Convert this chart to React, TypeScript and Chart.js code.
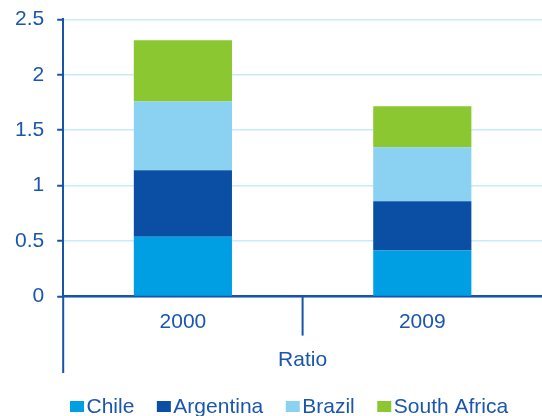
import React, { useEffect, useRef } from "react";
import { Chart, registerables } from "chart.js";

Chart.register(...registerables);

const categories = ["2000", "2009"];
const seriesNames = ["Chile", "Argentina", "Brazil", "South Africa"];
const chile = [0.54, 0.415];
const argentina = [0.6, 0.445];
const brazil = [0.62, 0.487];
const southAfrica = [0.55, 0.37];
const seriesColors = ["#009fe3", "#0a4fa3", "#8bd1f1", "#8ac731"];
const groupLabel = "Ratio";

const AXIS = "#1853ab";
const TEXT = "#1a56ad";
const GRID = "#c9eaf7";
const FONT = "'Liberation Sans', Arial, sans-serif";

const extrasPlugin = {
  id: "extras",
  afterDraw(chart: any) {
    const { ctx, chartArea, scales } = chart;
    const x = scales.x;
    ctx.save();
    ctx.strokeStyle = AXIS;
    ctx.lineWidth = 2;
    // y-axis extension below the chart
    ctx.beginPath();
    ctx.moveTo(chartArea.left, chartArea.bottom);
    ctx.lineTo(chartArea.left, x.bottom - 2);
    ctx.stroke();
    // divider between categories
    const mid = (x.getPixelForValue(0) + x.getPixelForValue(1)) / 2;
    ctx.beginPath();
    ctx.moveTo(mid, chartArea.bottom);
    ctx.lineTo(mid, chartArea.bottom + 39);
    ctx.stroke();
    // legend
    ctx.font = `21px ${FONT}`;
    ctx.textBaseline = "middle";
    let lx = 70;
    const ly = 407;
    chart.data.datasets.forEach((ds: any) => {
      ctx.fillStyle = ds.backgroundColor;
      ctx.fillRect(lx, ly - 6, 14, 11);
      lx += 16.5;
      ctx.fillStyle = TEXT;
      ctx.fillText(ds.label, lx, ly);
      lx += ctx.measureText(ds.label).width + 22.5;
    });
    ctx.restore();
  },
};

export default function App() {
  const ref = useRef<HTMLCanvasElement>(null);
  useEffect(() => {
    const values = [chile, argentina, brazil, southAfrica];
    const chart = new Chart(ref.current!, {
      type: "bar",
      data: {
        labels: categories,
        datasets: seriesNames.map((name, i) => ({
          label: name,
          data: values[i],
          backgroundColor: seriesColors[i],
          borderWidth: 0,
          barPercentage: 0.41,
          categoryPercentage: 1,
        })),
      },
      options: {
        responsive: false,
        animation: false,
        layout: { padding: { left: 2, right: 0, top: 0, bottom: 41 } },
        plugins: { legend: { display: false }, tooltip: { enabled: false } },
        scales: {
          x: {
            stacked: true,
            grid: { display: false, drawTicks: false },
            border: { color: AXIS, width: 2.5 },
            ticks: { color: TEXT, font: { family: FONT, size: 21 }, padding: 13 },
            title: {
              display: true,
              text: groupLabel,
              color: TEXT,
              font: { family: FONT, size: 21 },
              padding: { top: 0, bottom: 2 },
            },
          },
          y: {
            stacked: true,
            min: 0,
            max: 2.5,
            grid: { color: GRID, lineWidth: 1.5, tickColor: AXIS, tickLength: 6, tickWidth: 2 },
            border: { color: AXIS, width: 2 },
            ticks: {
              stepSize: 0.5,
              color: TEXT,
              font: { family: FONT, size: 21, lineHeight: 0.6 },
              padding: 13,
              callback: (v: any) => `${Number(v)}`,
            },
          },
        },
      },
      plugins: [extrasPlugin],
    });
    return () => chart.destroy();
  }, []);
  return (
    <canvas
      ref={ref}
      width={542}
      height={416}
      style={{ position: "absolute", left: 0, top: 0 }}
    />
  );
}
